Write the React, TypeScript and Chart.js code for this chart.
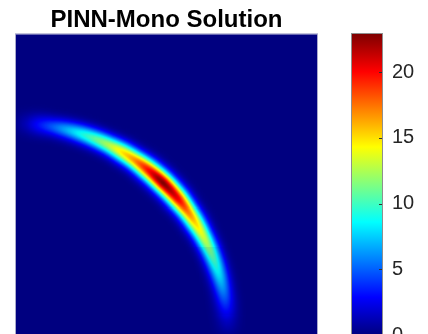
import React, { useEffect, useRef } from "react";
import { Chart, registerables } from "chart.js";

Chart.register(...registerables);

// ---- data ----
const titleText = "PINN-Mono Solution";
const colorMin = 0;
const colorMax = 22.9;
const colorbarTicks = [0, 5, 10, 15, 20];
// the solution is a ridge along a quarter circle centred at the lower-left corner
const ridgeRadius = 0.704;
const ridgeAngle = [90, 87, 84, 80, 76, 72, 68, 64, 60, 56, 52, 48, 46, 44, 40, 36, 32, 28, 24, 20, 16, 12, 8, 4, 0];
const ridgePeak = [0.3, 1.4, 3.1, 5.0, 7.0, 9.0, 10.8, 12.6, 14.8, 16.8, 19.5, 22.2, 22.9, 22.3, 20.5, 17.6, 15.3, 13.4, 11.6, 9.8, 8.0, 6.0, 3.8, 1.6, 0.3];
const ridgeWidth = [0.026, 0.025, 0.024, 0.022, 0.022, 0.022, 0.022, 0.022, 0.023, 0.023, 0.024, 0.024, 0.024, 0.024, 0.024, 0.023, 0.023, 0.022, 0.022, 0.022, 0.022, 0.022, 0.023, 0.024, 0.025];
const gridN = 300;

const FONT = "'Liberation Sans', Arial, Helvetica, sans-serif";

function jet(t: number): [number, number, number] {
  const c = (v: number) => Math.max(0, Math.min(1, v));
  const r = c(Math.min(4 * t - 1.5, -4 * t + 4.5));
  const g = c(Math.min(4 * t - 0.5, -4 * t + 3.5));
  const b = c(Math.min(4 * t + 0.5, -4 * t + 2.5));
  return [Math.round(r * 255), Math.round(g * 255), Math.round(b * 255)];
}
function jetCss(t: number) {
  const [r, g, b] = jet(t);
  return `rgb(${r},${g},${b})`;
}

function ridgeAt(theta: number): [number, number] {
  for (let i = 0; i < ridgeAngle.length - 1; i++) {
    const a0 = ridgeAngle[i], a1 = ridgeAngle[i + 1];
    if (theta <= a0 && theta >= a1) {
      const f = (a0 - theta) / (a0 - a1);
      return [
        ridgePeak[i] + f * (ridgePeak[i + 1] - ridgePeak[i]),
        ridgeWidth[i] + f * (ridgeWidth[i + 1] - ridgeWidth[i]),
      ];
    }
  }
  return [0, 0.02];
}

function buildCells() {
  const pts: { x: number; y: number }[] = [];
  const cols: string[] = [];
  for (let i = 0; i <= gridN; i++) {
    for (let j = 0; j <= gridN; j++) {
      const x = i / gridN, y = j / gridN;
      const r = Math.hypot(x, y);
      const th = (Math.atan2(y, x) * 180) / Math.PI;
      const [p, w] = ridgeAt(th);
      const v = p * Math.exp(-((r - ridgeRadius) ** 2) / (2 * w * w));
      if (v < 0.05) continue;
      pts.push({ x, y });
      cols.push(jetCss((v - colorMin) / (colorMax - colorMin)));
    }
  }
  return { pts, cols };
}

export default function App() {
  const mainRef = useRef<HTMLCanvasElement>(null);
  const cbRef = useRef<HTMLCanvasElement>(null);

  useEffect(() => {
    const { pts, cols } = buildCells();
    const bgPlugin = {
      id: "bg",
      beforeDatasetsDraw(chart: any) {
        const { ctx, chartArea: a } = chart;
        ctx.save();
        ctx.fillStyle = jetCss(0);
        ctx.fillRect(a.left, a.top, a.right - a.left, a.bottom - a.top);
        ctx.restore();
      },
      afterDraw(chart: any) {
        const { ctx, chartArea: a } = chart;
        ctx.save();
        ctx.strokeStyle = "#a9a9cc";
        ctx.lineWidth = 1;
        ctx.strokeRect(a.left - 0.5, a.top - 0.5, a.right - a.left + 1, a.bottom - a.top + 1);
        ctx.restore();
      },
    };
    const main = new Chart(mainRef.current!, {
      type: "scatter",
      data: {
        datasets: [
          {
            data: pts,
            backgroundColor: cols,
            borderWidth: 0,
            pointStyle: "rect",
            pointRadius: 0.95,
            pointHoverRadius: 0.95,
          },
        ],
      },
      options: {
        responsive: false,
        animation: false,
        events: [],
        layout: { padding: { left: 16, right: 111, top: 0, bottom: 10 } },
        scales: {
          x: { type: "linear", min: 0, max: 1, display: false },
          y: { type: "linear", min: 0, max: 1, display: false },
        },
        plugins: {
          legend: { display: false },
          tooltip: { enabled: false },
          title: {
            display: true,
            text: titleText,
            fullSize: false,
            color: "#000000",
            font: { family: FONT, size: 24, weight: "bold", lineHeight: 1.2 },
            padding: { top: 5.5, bottom: 0 },
          },
        },
      } as any,
      plugins: [bgPlugin],
    });

    const cbPlugin = {
      id: "cbticks",
      afterDraw(chart: any) {
        const { ctx, chartArea: a } = chart;
        const s = chart.scales.y;
        ctx.save();
        ctx.strokeStyle = "#8f8f8f";
        ctx.lineWidth = 1;
        ctx.strokeRect(a.left - 0.5, a.top - 0.5, a.right - a.left + 1, a.bottom - a.top + 1);
        ctx.strokeStyle = "#303030";
        for (const t of colorbarTicks) {
          const py = Math.round(s.getPixelForValue(t)) + 0.5;
          ctx.beginPath();
          ctx.moveTo(a.right, py);
          ctx.lineTo(a.right - 3, py);
          ctx.stroke();
        }
        ctx.restore();
      },
    };
    const cb = new Chart(cbRef.current!, {
      type: "bar",
      data: {
        labels: [""],
        datasets: [
          {
            data: [[colorMin, colorMax]],
            borderWidth: 0,
            backgroundColor: (c: any) => {
              const a = c.chart.chartArea;
              if (!a) return "#000080";
              const g = c.chart.ctx.createLinearGradient(0, a.bottom, 0, a.top);
              for (let k = 0; k <= 32; k++) g.addColorStop(k / 32, jetCss(k / 32));
              return g;
            },
            categoryPercentage: 1,
            barPercentage: 1,
          },
        ],
      },
      options: {
        responsive: false,
        animation: false,
        events: [],
        layout: { padding: { left: 352, right: 0, top: 34, bottom: 10 } },
        scales: {
          x: { display: false },
          y: {
            position: "right",
            min: colorMin,
            max: colorMax,
            border: { display: false },
            grid: { display: false, drawTicks: false },
            afterBuildTicks: (s: any) => {
              s.ticks = colorbarTicks.map((v) => ({ value: v }));
            },
            afterFit: (s: any) => {
              s.width = 46;
              s.paddingTop = 0;
              s.paddingBottom = 0;
            },
            ticks: {
              padding: 10,
              color: "#262626",
              font: { family: FONT, size: 20 },
              callback: (v: any) => String(v),
            },
          },
        },
        plugins: { legend: { display: false }, tooltip: { enabled: false } },
      } as any,
      plugins: [cbPlugin],
    });
    return () => {
      main.destroy();
      cb.destroy();
    };
  }, []);

  return (
    <div
      style={{
        position: "fixed",
        left: 0,
        top: 0,
        width: 428,
        height: 334,
        overflow: "hidden",
        background: "#ffffff",
      }}
    >
      <canvas ref={mainRef} width={428} height={345} style={{ position: "absolute", left: 0, top: 0, width: 428, height: 345 }} />
      <canvas ref={cbRef} width={428} height={345} style={{ position: "absolute", left: 0, top: 0, width: 428, height: 345 }} />
    </div>
  );
}
